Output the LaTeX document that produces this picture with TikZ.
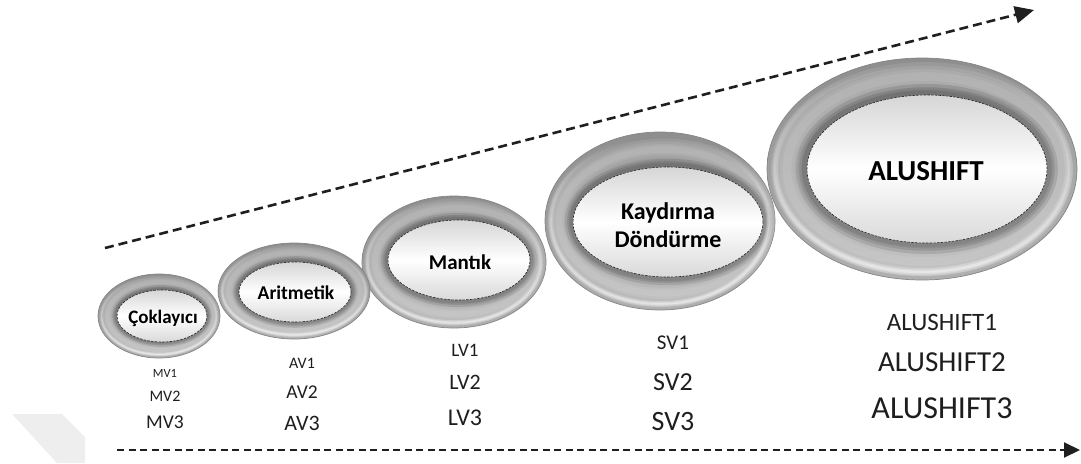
\documentclass[tikz,border=0pt]{standalone}
\usepackage{fontspec}
\setmainfont{Carlito}
\usetikzlibrary{arrows.meta,shapes.geometric,fadings}
\definecolor{ringtop}{HTML}{8E8E8E}
\definecolor{ringbot}{HTML}{B0B0B0}
\definecolor{ringedge}{HTML}{858585}
\definecolor{innertop}{HTML}{D6D6D6}
\definecolor{innerbot}{HTML}{D9D9D9}
\definecolor{wmark}{HTML}{EEEEEE}
\definecolor{txt}{HTML}{1E1E1E}
\tikzset{
  ringouter/.style={ellipse, inner sep=0pt, outer sep=0pt, top color=ringtop, bottom color=ringbot, draw=ringedge, line width=0.7pt},
  ringinner/.style={ellipse, inner sep=0pt, outer sep=0pt, top color=innertop, bottom color=innerbot, middle color=white, draw=black!85, dash pattern=on 2.5pt off 1.2pt, line width=0.6pt},
  innerlabel/.style={font=\bfseries\fontsize{#1}{#1}\selectfont, text=black, align=center},
  vlabel/.style={font=\fontsize{#1}{#1}\selectfont, text=txt, inner sep=0pt},
  toparrow/.style={line width=2.6pt, dash pattern=on 9pt off 5pt, -{Triangle[length=19pt,width=17pt]}, black!88},
  botarrow/.style={line width=2pt, dash pattern=on 7pt off 4.5pt, -{Triangle[length=16pt,width=15pt]}, black!88},
}
\newcommand{\drawring}[9]{%
  \pgfmathsetmacro{\rmx}{(#2+#6)/2}%
  \pgfmathsetmacro{\rmy}{(#3+#7)/2}%
  \pgfmathsetmacro{\rmrx}{(#4+#8)/2}%
  \pgfmathsetmacro{\rmry}{(#5+#9)/2}%
  \pgfmathsetmacro{\rbw}{((#4-#8)+(#5-#9))/2}%
  \pgfmathsetmacro{\rhrx}{#4-0.22*\rbw}%
  \pgfmathsetmacro{\rhry}{#5-0.22*\rbw}%
  \pgfmathsetmacro{\rirx}{#8+0.08*\rbw}%
  \pgfmathsetmacro{\riry}{#9+0.08*\rbw}%
  \node[ringouter, minimum width={2*#4pt}, minimum height={2*#5pt}] (#1o) at (#2,#3) {};
  \begin{scope}
    \clip (#2,#3) ellipse [x radius=#4, y radius=#5];
    % broad soft sheen along the middle of the tube
    \foreach \f in {1.0,0.75,0.5,0.3} {
      \pgfmathsetmacro{\rlw}{\f*0.8*\rbw}
      \draw[white, opacity=.09, line width=\rlw pt] (\rmx,\rmy) ellipse [x radius=\rmrx, y radius=\rmry];
    }
    % shadow next to the inner hole
    \foreach \f in {1.0,0.6,0.3} {
      \pgfmathsetmacro{\rlw}{\f*0.45*\rbw}
      \draw[black, opacity=.08, line width=\rlw pt] (#6,#7) ellipse [x radius=\rirx, y radius=\riry];
    }
    % bright rim along the upper outer part, fading downwards
    \foreach \f in {1.0,0.6,0.3} {
      \pgfmathsetmacro{\rlw}{\f*0.22*\rbw}
      \draw[white, opacity=.3, line width=\rlw pt, path fading=north] (#2,#3) ellipse [x radius=\rhrx, y radius=\rhry];
    }
  \end{scope}
  \node[ringinner, minimum width={2*#8pt}, minimum height={2*#9pt}] (#1i) at (#6,#7) {};
}
\begin{document}
\begin{tikzpicture}[x=1pt,y=-1pt]
\useasboundingbox (0,0) rectangle (1081,463);
% watermark
\fill[wmark] (12,414) -- (62,414) -- (85,437) -- (85,463) -- (57,463) -- cycle;
% arrows
\coordinate (t0) at (105,248);
\coordinate (t1) at (1034,10);
\draw[toparrow] (t0) -- (t1);
\coordinate (b0) at (117,450);
\coordinate (b1) at (1080,450);
\draw[botarrow] (b0) -- (b1);
% rings (largest first, smaller in front)
\drawring{alu}{922}{169}{155}{111}{927}{169}{120}{74}
\drawring{kay}{660}{221}{115}{89}{668}{222}{95}{55}
\drawring{man}{454}{262}{92}{66}{459}{260}{71}{40}
\drawring{ari}{294}{291}{76}{48}{295}{292}{56}{30}
\drawring{cok}{159}{316}{61}{42}{162}{316}{45}{26}
% ring labels
\node[innerlabel=19] (lcok) at (163,318) {Çoklayıcı};
\node[innerlabel=19.5] (lari) at (296,293) {Aritmetik};
\node[innerlabel=21] (lman) at (460,262) {Mantık};
\node[innerlabel=24, font=\bfseries\fontsize{24}{28}\selectfont] (lkay) at (668,225) {Kaydırma\\Döndürme};
\node[innerlabel=29] (lalu) at (926,171) {ALUSHIFT};
% variant labels
\node[vlabel=12.5] (mv1) at (165,373) {MV1};
\node[vlabel=16] (mv2) at (165,396) {MV2};
\node[vlabel=19.5] (mv3) at (165,422) {MV3};
\node[vlabel=16] (av1) at (302,363) {AV1};
\node[vlabel=19.5] (av2) at (302,392) {AV2};
\node[vlabel=22] (av3) at (302,423) {AV3};
\node[vlabel=19] (lv1) at (465,350) {LV1};
\node[vlabel=22] (lv2) at (465,382) {LV2};
\node[vlabel=24] (lv3) at (465,418) {LV3};
\node[vlabel=21] (sv1) at (673,343) {SV1};
\node[vlabel=26] (sv2) at (673,382) {SV2};
\node[vlabel=28] (sv3) at (673,422) {SV3};
\node[vlabel=25] (as1) at (942,322) {ALUSHIFT1};
\node[vlabel=29] (as2) at (942,362) {ALUSHIFT2};
\node[vlabel=32] (as3) at (942,408) {ALUSHIFT3};
\end{tikzpicture}
\end{document}
